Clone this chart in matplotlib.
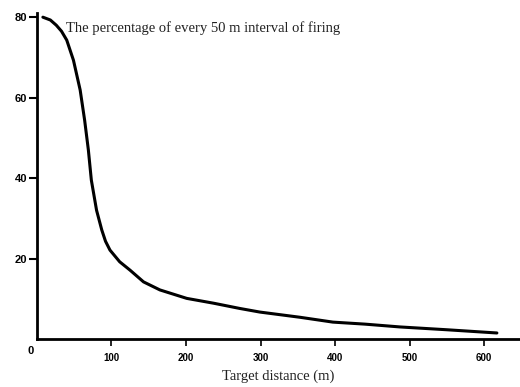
import matplotlib
matplotlib.use("Agg")
import matplotlib.pyplot as plt

# Data
distance = [8, 18, 26, 33, 40, 49, 58, 64, 69, 73, 80, 87, 92, 98, 111, 125, 143, 165, 201, 237, 272, 299, 353, 397, 440, 487, 550, 617]
percent = [80, 79.3, 78, 76.5, 74.3, 69.3, 61.9, 54.4, 47, 39.5, 32, 27.1, 24.3, 22.1, 19.2, 17.1, 14.2, 12.2, 10.1, 8.9, 7.6, 6.7, 5.4, 4.2, 3.7, 3.0, 2.3, 1.5]
xticks = [100, 200, 300, 400, 500, 600]
yticks = [20, 40, 60, 80]
origin_label = "0"
title = "The percentage of every 50 m interval of firing"
xlabel = "Target distance (m)"

fig = plt.figure(figsize=(5.2, 3.87), dpi=100)
ax = fig.add_axes([0.071, 0.124, 0.929, 0.842])
ax.plot(distance, percent, color="black", lw=2.2, solid_capstyle="round")
ax.set_xlim(0, 648)
ax.set_ylim(0, 81)
for s in ["top", "right"]:
    ax.spines[s].set_visible(False)
for s in ["left", "bottom"]:
    ax.spines[s].set_linewidth(2)
ax.set_xticks(xticks)
ax.set_xticklabels([str(v) for v in xticks], fontsize=7, fontweight="bold", family="Liberation Sans")
ax.set_yticks(yticks)
ax.set_yticklabels([str(v) for v in yticks], fontsize=8, fontweight="bold", family="Liberation Sans")
ax.tick_params(axis="x", length=5, width=1.2, pad=5)
ax.tick_params(axis="y", length=6, width=1.5, pad=1)
ax.text(-9, -3, origin_label, fontsize=8, fontweight="bold", family="Liberation Sans",
        ha="center", va="center", clip_on=False)
ax.text(0.06, 0.975, title, transform=ax.transAxes, fontsize=10.5, family="Liberation Serif", va="top", ha="left", color="#222222")
ax.set_xlabel(xlabel, fontsize=10.5, family="Liberation Serif", labelpad=5, color="#222222")
fig.savefig("out.png", dpi=100)
